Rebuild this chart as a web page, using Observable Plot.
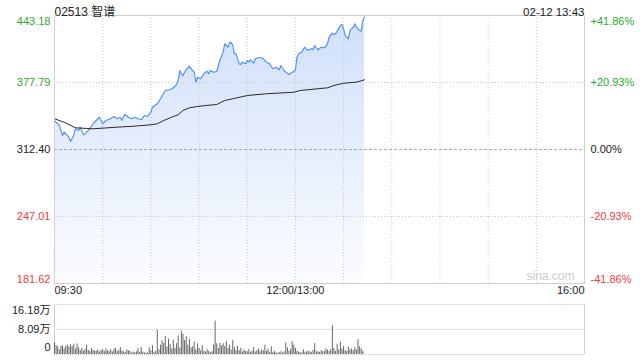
<!DOCTYPE html>
<html><head><meta charset="utf-8">
<script src="https://cdn.jsdelivr.net/npm/d3@7"></script>
<script src="https://cdn.jsdelivr.net/npm/@observablehq/plot@0.6"></script>
<style>
body{margin:0;background:#fff;font-family:"Liberation Sans",Arial,"Noto Sans CJK SC",sans-serif;}
#chart svg{display:block;}
</style></head><body><div id="chart"></div>
<script>
const stockTitle = "02513 智谱";
const stampText = "02-12 13:43";
const priceTicks = [443.18, 377.79, 312.40, 247.01, 181.62];
const pctTicks = ["+41.86%", "+20.93%", "0.00%", "-20.93%", "-41.86%"];
const timeTicks = [0, 150, 330];
const timeLabels = ["09:30", "12:00/13:00", "16:00"];
const gridMinutes = [30, 60, 90, 120, 150, 180, 210, 240, 270, 300];
const volTicks = [16.18, 8.09, 0];
const volLabels = ["16.18万", "8.09万", "0"];
const watermark = "sina.com";

// trading minutes since 09:30 (lunch break collapsed)
const priceMinutes = [0,1,3,5,6,9,10,12,13,15,16,18,20,22,24,26,28,30,32,35,37,39,41,42,43,44,46,48,50,52,54,56,58,59,60,61,64,66,69,72,74,76,77,78,79,80,81,82,84,85,86,87,88,89,91,93,95,96,97,99,101,103,105,106,108,109,110,111,112,113,114,115,116,117,119,120,121,122,124,125,127,129,130,132,134,135,136,138,140,141,143,144,146,148,149,150,151,152,154,155,156,157,159,160,161,162,163,164,166,168,169,170,171,173,174,175,176,178,179,180,181,183,184,185,186,187,188,189,190,191,192,193];
const priceValues = [340.7,339.0,335.8,326.1,329.3,324.4,320.2,326.1,332.6,330.9,334.2,326.7,329.3,332.6,337.5,340.7,343.9,337.5,340.7,342.4,344.6,342.4,343.9,340.7,344.6,346.6,343.9,342.4,343.9,342.4,341.4,345.6,344.6,347.2,348.8,353.7,357.0,361.9,370.0,371.0,372.6,375.8,379.7,389.5,386.3,384.6,387.8,390.2,393.7,391.2,389.5,387.8,378.1,382.9,381.4,386.3,388.8,386.3,389.5,387.8,388.5,399.3,407.4,415.6,412.2,416.5,417.1,413.9,405.8,405.8,400.9,396.0,395.4,397.6,396.0,399.3,397.6,399.9,396.6,400.9,401.9,401.9,400.9,397.6,396.0,393.4,391.2,392.7,390.2,394.4,389.5,387.8,385.6,387.8,388.5,390.2,402.5,405.8,407.4,410.7,412.2,409.7,409.7,410.7,409.7,413.9,411.7,409.7,412.2,411.7,412.9,415.6,422.0,425.9,424.6,425.3,427.9,433.4,434.4,430.2,423.7,420.4,428.5,430.2,431.8,435.1,431.8,430.2,428.5,427.9,438.3,441.5,442.2,440.9];
const avgMinutes = [0,6,13,24,39,49,60,64,68,74,77,80,84,89,94,101,106,111,120,132,149,153,170,174,180,188,193];
const avgValues = [342.4,339.0,333.6,332.6,334.2,335.1,336.5,337.5,340.7,344.6,346.3,350.5,353.1,354.4,355.3,356.3,360.2,361.9,365.1,366.8,368.3,370.0,372.6,374.9,377.1,378.1,380.4];
// per-minute volume in 万 shares, minute 0..192
const volumeValues = [3.8,2.9,2.5,1.5,2.6,2.8,1.9,2.7,3.0,2.4,3.2,2.6,3.3,1.8,3.4,2.2,1.3,2.0,1.1,1.6,3.0,1.4,1.0,1.9,1.3,1.2,1.1,1.5,0.8,1.3,1.6,1.0,1.8,1.2,0.9,1.6,0.8,1.7,2.0,1.0,1.3,2.2,1.1,0.9,0.7,1.5,1.2,1.0,0.5,0.8,0.6,0.9,1.9,0.7,2.3,0.8,0.5,0.4,0.6,2.2,1.2,2.8,0.6,1.0,7.8,1.5,3.0,4.5,3.6,5.8,2.4,5.0,3.2,1.8,4.6,2.0,3.5,6.0,2.1,7.5,6.6,4.5,5.8,3.0,5.0,2.2,2.5,4.0,1.5,3.5,2.0,1.2,2.8,1.0,0.8,1.6,1.0,0.6,0.9,3.0,10.8,3.5,2.0,3.6,2.8,3.5,2.6,4.2,2.0,3.0,1.5,4.5,2.2,1.3,2.6,1.2,2.0,0.8,1.5,1.0,0.9,1.6,0.7,1.1,2.2,0.8,1.3,1.8,0.9,1.5,1.2,3.0,1.0,1.8,0.7,2.5,0.6,1.0,0.5,0.4,0.6,0.9,0.5,0.8,3.8,2.2,1.0,1.6,4.2,3.0,2.0,1.0,0.8,0.6,0.5,1.5,0.7,0.9,1.1,0.8,0.6,1.3,3.5,1.0,0.8,0.7,1.2,0.9,1.0,1.8,1.4,1.0,1.6,9.4,2.0,1.0,3.2,1.5,4.0,1.8,2.6,1.2,1.0,2.4,1.5,1.8,1.2,2.2,1.5,4.8,2.5,1.8,1.0];

const green = "#2ea82e", red = "#f03c3c", dark = "#222";
const priceData = priceMinutes.map((t, i) => ({t, p: priceValues[i]}));
const avgData = avgMinutes.map((t, i) => ({t, p: avgValues[i]}));
const volData = volumeValues.map((v, t) => ({t, v}));
const tickData = priceTicks.map((v, i) => ({v, i, pct: pctTicks[i]}));
const tickColor = d => d.i < 2 ? green : d.i > 2 ? red : dark;
const timeData = timeTicks.map((t, i) => ({t, label: timeLabels[i]}));

const defsMark = () => {
  const defs = d3.create("svg:defs");
  const g = defs.append("linearGradient").attr("id", "pg")
    .attr("x1", 0).attr("y1", 0).attr("x2", 0).attr("y2", 1);
  g.append("stop").attr("offset", "0%").attr("stop-color", "#cfdffa");
  g.append("stop").attr("offset", "45%").attr("stop-color", "#e4edfc");
  g.append("stop").attr("offset", "100%").attr("stop-color", "#fbfcff");
  return defs.node();
};

const xDomain = [0, 330];
const price = Plot.plot({
  width: 640, height: 300,
  marginLeft: 54, marginRight: 56, marginTop: 15, marginBottom: 17,
  style: {fontFamily: '"Liberation Sans", Arial, "Noto Sans CJK SC", sans-serif', fontSize: "11px", background: "#fff"},
  x: {domain: xDomain, axis: null},
  y: {domain: [priceTicks[4], priceTicks[0]], axis: null},
  marks: [
    defsMark,
    Plot.areaY(priceData, {x: "t", y1: priceTicks[4], y2: "p", fill: "url(#pg)", curve: "linear"}),
    Plot.ruleX(gridMinutes, {stroke: "#c8c8c8", strokeDasharray: "1,2"}),
    Plot.ruleY([priceTicks[1], priceTicks[3]], {stroke: "#c8c8c8", strokeDasharray: "1,2"}),
    Plot.ruleY([priceTicks[2]], {stroke: "#a8a8a8", strokeDasharray: "3,2"}),
    Plot.line(priceData, {x: "t", y: "p", stroke: "#5290f5", strokeWidth: 1.15}),
    Plot.line(avgData, {x: "t", y: "p", stroke: "#2a2a2a", strokeWidth: 1}),
    Plot.frame({stroke: "#cfcfcf"}),
    // left price labels
    Plot.text(tickData.filter(d => d.i === 0), {y: "v", text: d => d.v.toFixed(2), fill: tickColor, frameAnchor: "left", textAnchor: "end", dx: -4, dy: 6}),
    Plot.text(tickData.filter(d => d.i > 0 && d.i < 4), {y: "v", text: d => d.v.toFixed(2), fill: tickColor, frameAnchor: "left", textAnchor: "end", dx: -4}),
    Plot.text(tickData.filter(d => d.i === 4), {y: "v", text: d => d.v.toFixed(2), fill: tickColor, frameAnchor: "left", textAnchor: "end", dx: -4, dy: -4}),
    // right pct labels
    Plot.text(tickData.filter(d => d.i === 0), {y: "v", text: "pct", fill: tickColor, frameAnchor: "right", textAnchor: "start", dx: 6, dy: 6}),
    Plot.text(tickData.filter(d => d.i > 0 && d.i < 4), {y: "v", text: "pct", fill: tickColor, frameAnchor: "right", textAnchor: "start", dx: 6}),
    Plot.text(tickData.filter(d => d.i === 4), {y: "v", text: "pct", fill: tickColor, frameAnchor: "right", textAnchor: "start", dx: 6, dy: -4}),
    // time labels
    Plot.text(timeData.slice(0, 1), {x: "t", text: "label", frameAnchor: "bottom", textAnchor: "start", dy: 10, fill: dark}),
    Plot.text(timeData.slice(1, 2), {x: "t", text: "label", frameAnchor: "bottom", textAnchor: "middle", dy: 10, fill: dark}),
    Plot.text(timeData.slice(2, 3), {x: "t", text: "label", frameAnchor: "bottom", textAnchor: "end", dy: 10, fill: dark}),
    // header
    Plot.text([stockTitle], {frameAnchor: "top-left", textAnchor: "start", dy: -8, fill: dark, fontSize: 12}),
    Plot.text([stampText], {frameAnchor: "top-right", textAnchor: "end", dy: -8, fill: dark, fontSize: 11.5}),
    Plot.text([watermark], {frameAnchor: "bottom-right", textAnchor: "end", dx: -10, dy: -4, fill: "#cccccc", fontSize: 12})
  ]
});

const volume = Plot.plot({
  width: 640, height: 60,
  marginLeft: 54, marginRight: 56, marginTop: 4, marginBottom: 6,
  style: {fontFamily: '"Liberation Sans", Arial, "Noto Sans CJK SC", sans-serif', fontSize: "11px", background: "#fff"},
  x: {domain: xDomain, axis: null},
  y: {domain: [0, volTicks[0]], axis: null},
  marks: [
    Plot.ruleY(volTicks, {stroke: "#c8c8c8", strokeDasharray: "1,1"}),
    Plot.ruleX(xDomain, {stroke: "#cfcfcf"}),
    Plot.ruleX(volData, {x: "t", y1: 0, y2: "v", stroke: "#666", strokeWidth: 1}),
    Plot.text(volTicks.slice(0, 1), {y: d => d, text: () => volLabels[0], frameAnchor: "left", textAnchor: "end", dx: -4, dy: 6, fill: dark}),
    Plot.text(volTicks.slice(1, 2), {y: d => d, text: () => volLabels[1], frameAnchor: "left", textAnchor: "end", dx: -4, fill: dark}),
    Plot.text(volTicks.slice(2, 3), {y: d => d, text: () => volLabels[2], frameAnchor: "left", textAnchor: "end", dx: -4, dy: -7, fill: dark})
  ]
});

const root = document.getElementById("chart");
root.append(price, volume);
</script></body></html>
